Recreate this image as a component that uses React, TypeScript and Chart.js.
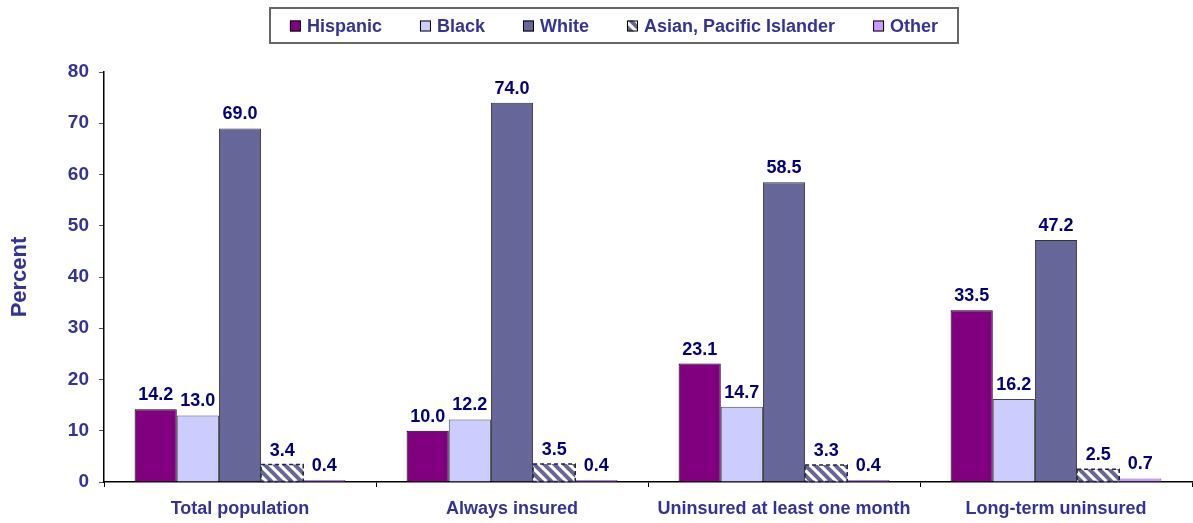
import React, { useEffect, useRef } from "react";
import { Chart, registerables } from "chart.js";

Chart.register(...registerables);

const categories = ["Total population", "Always insured", "Uninsured at least one month", "Long-term uninsured"];
const seriesNames = ["Hispanic", "Black", "White", "Asian, Pacific Islander", "Other"];
const hispanic = [14.2, 10.0, 23.1, 33.5];
const black = [13.0, 12.2, 14.7, 16.2];
const white = [69.0, 74.0, 58.5, 47.2];
const asian = [3.4, 3.5, 3.3, 2.5];
const other = [0.4, 0.4, 0.4, 0.7];
const yAxisMin = 0;
const yAxisMax = 80;
const yAxisStep = 10;
const yAxisTitle = "Percent";

const FONT = "'Liberation Sans', Arial, sans-serif";
const TEXT_BLUE = "#333399";
const LABEL_NAVY = "#000080";

function makeHatch(): CanvasPattern | string {
  const c = document.createElement("canvas");
  c.width = 10;
  c.height = 10;
  const g = c.getContext("2d");
  if (!g) return "#666699";
  g.fillStyle = "#ffffff";
  g.fillRect(0, 0, 10, 10);
  g.strokeStyle = "#666699";
  g.lineWidth = 4;
  for (const off of [-10, 0, 10]) {
    g.beginPath();
    g.moveTo(off - 2, -2);
    g.lineTo(off + 12, 12);
    g.stroke();
  }
  const p = g.createPattern(c, "repeat");
  return p || "#666699";
}

const dashedBorderPlugin = {
  id: "dashedBorder",
  afterDatasetsDraw(chart: any) {
    const ctx = chart.ctx;
    chart.data.datasets.forEach((ds: any, di: number) => {
      if (!ds.dashedBorder) return;
      const meta = chart.getDatasetMeta(di);
      ctx.save();
      ctx.strokeStyle = "#222244";
      ctx.lineWidth = 1.5;
      ctx.setLineDash([4, 3]);
      meta.data.forEach((bar: any) => {
        const { x, y, base, width } = bar.getProps(["x", "y", "base", "width"], true);
        ctx.strokeRect(x - width / 2, y, width, base - y);
      });
      ctx.restore();
    });
  },
};

const valueLabelPlugin = {
  id: "valueLabels",
  afterDatasetsDraw(chart: any) {
    const ctx = chart.ctx;
    ctx.save();
    ctx.font = `bold 18px ${FONT}`;
    ctx.fillStyle = LABEL_NAVY;
    ctx.textAlign = "center";
    ctx.textBaseline = "alphabetic";
    chart.data.datasets.forEach((ds: any, di: number) => {
      const meta = chart.getDatasetMeta(di);
      meta.data.forEach((bar: any, i: number) => {
        const v = ds.data[i];
        const { x, y } = bar.getProps(["x", "y"], true);
        ctx.fillText(Number(v).toFixed(1), x, y - 9);
      });
    });
    ctx.restore();
  },
};

const boxLegendPlugin = {
  id: "boxLegend",
  afterDraw(chart: any) {
    const ctx = chart.ctx;
    ctx.save();
    ctx.font = `bold 18px ${FONT}`;
    const box = 11;
    const gapText = 6;
    const gapItem = 38;
    const items = chart.data.datasets.map((ds: any) => ({
      label: ds.label,
      fill: ds.backgroundColor,
    }));
    const widths = items.map((it: any) => box + gapText + ctx.measureText(it.label).width);
    const total = widths.reduce((a: number, b: number) => a + b, 0) + gapItem * (items.length - 1);
    let x = 614 - total / 2;
    const cy = 26;
    ctx.strokeStyle = "#666666";
    ctx.lineWidth = 2;
    ctx.strokeRect(Math.round(x - 20), 8, Math.round(total + 40), 35);
    ctx.textBaseline = "middle";
    ctx.textAlign = "left";
    items.forEach((it: any, i: number) => {
      ctx.fillStyle = it.fill;
      ctx.fillRect(x, cy - box / 2, box, box);
      ctx.strokeStyle = "#000000";
      ctx.lineWidth = 1;
      ctx.strokeRect(x + 0.5, cy - box / 2 + 0.5, box - 1, box - 1);
      ctx.fillStyle = TEXT_BLUE;
      ctx.fillText(it.label, x + box + gapText, cy + 1);
      x += widths[i] + gapItem;
    });
    ctx.restore();
  },
};

export default function App() {
  const canvasRef = useRef<HTMLCanvasElement | null>(null);

  useEffect(() => {
    document.body.style.margin = "0";
    const canvas = canvasRef.current;
    if (!canvas) return;
    const hatch = makeHatch();
    const seriesValues = [hispanic, black, white, asian, other];
    const fills: any[] = ["#800080", "#ccccff", "#666699", hatch, "#cc99ff"];
    const borders = ["#000000", "#444444", "#333333", "rgba(0,0,0,0)", "#8855bb"];
    const chart = new Chart(canvas, {
      type: "bar",
      data: {
        labels: categories,
        datasets: seriesNames.map((name, i) => ({
          label: name,
          data: seriesValues[i],
          backgroundColor: fills[i],
          borderColor: borders[i],
          borderWidth: i === 3 ? 0 : 1,
          dashedBorder: i === 3,
          categoryPercentage: 0.775,
          barPercentage: 1,
        })) as any,
      },
      options: {
        animation: false,
        responsive: false,
        devicePixelRatio: 1,
        layout: { padding: { top: 72, left: 0, right: 1, bottom: 0 } },
        plugins: {
          legend: { display: false },
          tooltip: { enabled: false },
        },
        scales: {
          x: {
            afterFit: (s: any) => {
              s.height = 41;
            },
            grid: {
              display: true,
              drawOnChartArea: false,
              drawTicks: true,
              tickLength: 5,
              tickColor: "#000000",
              offset: true,
            },
            border: { display: true, color: "#000000", width: 1.5 },
            ticks: {
              color: TEXT_BLUE,
              font: { family: FONT, size: 18, weight: "bold" },
              padding: 11,
              maxRotation: 0,
              autoSkip: false,
            },
          },
          y: {
            min: yAxisMin,
            max: yAxisMax,
            afterFit: (s: any) => {
              s.width = 104;
            },
            grid: {
              display: true,
              drawOnChartArea: false,
              drawTicks: true,
              tickLength: 5,
              tickColor: "#555555",
            },
            border: { display: true, color: "#000000", width: 1.5 },
            ticks: {
              stepSize: yAxisStep,
              color: TEXT_BLUE,
              font: { family: FONT, size: 19, weight: "bold" },
              padding: 10,
            },
            title: {
              display: true,
              text: yAxisTitle,
              color: TEXT_BLUE,
              font: { family: FONT, size: 22, weight: "bold" },
              padding: { top: 7, bottom: 0 },
            },
          },
        },
      } as any,
      plugins: [dashedBorderPlugin, valueLabelPlugin, boxLegendPlugin],
    });
    return () => chart.destroy();
  }, []);

  return (
    <div style={{ width: 1193, height: 523, background: "#ffffff" }}>
      <canvas ref={canvasRef} width={1193} height={523} style={{ display: "block" }} />
    </div>
  );
}
